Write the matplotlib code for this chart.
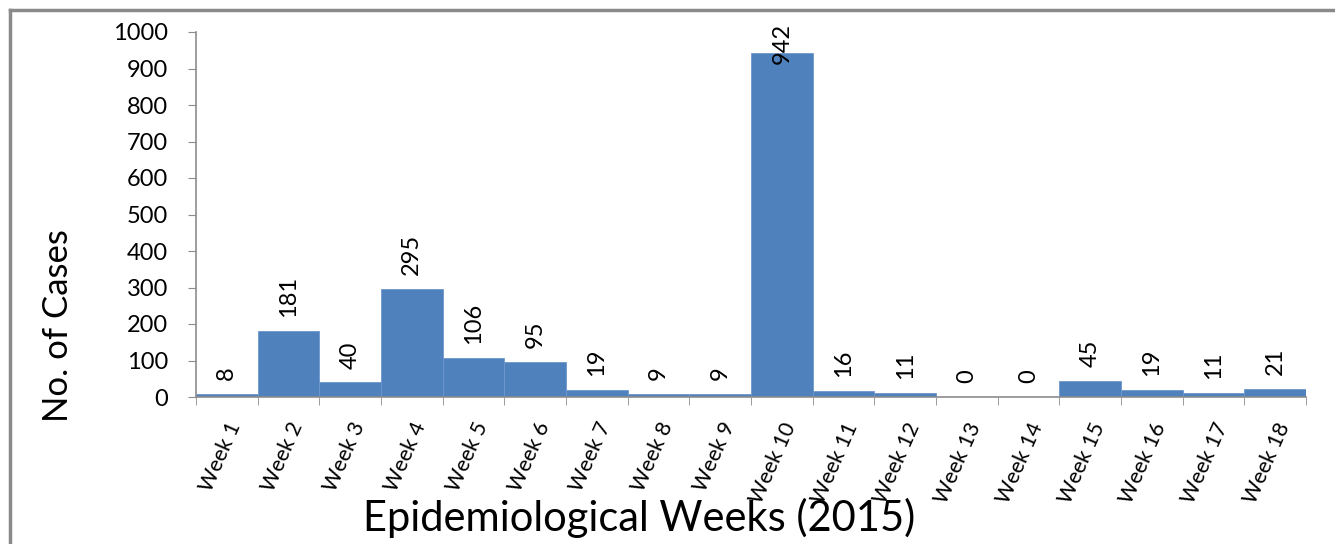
import matplotlib
matplotlib.use("Agg")
import matplotlib.pyplot as plt
from matplotlib.lines import Line2D
from matplotlib.ticker import FixedLocator, MultipleLocator

plt.rcParams['font.family'] = ['Lato', 'DejaVu Sans']

weeks = ["Week 1", "Week 2", "Week 3", "Week 4", "Week 5", "Week 6", "Week 7",
         "Week 8", "Week 9", "Week 10", "Week 11", "Week 12", "Week 13", "Week 14",
         "Week 15", "Week 16", "Week 17", "Week 18"]
cases = [8, 181, 40, 295, 106, 95, 19, 9, 9, 942, 16, 11, 0, 0, 45, 19, 11, 21]

fig = plt.figure(figsize=(13.35, 5.44), dpi=100)
ax = fig.add_axes([196/1335, 1-397/544, (1306-196)/1335, (397-32)/544])

x = list(range(len(weeks)))
ax.bar(x, cases, width=1.0, color="#4F81BD", edgecolor="#6d97cc", linewidth=0.6)

ax.set_xlim(-0.5, len(weeks)-0.5)
ax.set_ylim(0, 1000)
ax.yaxis.set_major_locator(MultipleLocator(100))

for s in ["top", "right"]:
    ax.spines[s].set_visible(False)
for s in ["left", "bottom"]:
    ax.spines[s].set_color("#8c8c8c")
    ax.spines[s].set_linewidth(1.2)

ax.tick_params(axis="y", direction="out", length=6, color="#8c8c8c", labelsize=17, pad=14)
ax.set_xticks(x)
ax.set_xticklabels(weeks, rotation=66, ha="right", rotation_mode="anchor", fontsize=15.5)
ax.tick_params(axis="x", which="major", length=0, pad=16)
ax.xaxis.set_minor_locator(FixedLocator([i - 0.5 for i in range(len(weeks)+1)]))
ax.tick_params(axis="x", which="minor", direction="out", length=6, color="#8c8c8c")

for xi, v in zip(x, cases):
    if v > 900:
        ax.annotate(str(v), (xi, v), xytext=(0, -8), textcoords="offset points",
                    rotation=90, ha="center", va="bottom", fontsize=17, annotation_clip=False)
    else:
        ax.annotate(str(v), (xi, v), xytext=(0, 10), textcoords="offset points",
                    rotation=90, ha="center", va="bottom", fontsize=17)

fig.text(58/1335, 1-326/544, "No. of Cases", rotation=90, ha="center", va="center", fontsize=25)
fig.text(639/1335, 1-518/544, "Epidemiological Weeks (2015)", ha="center", va="center", fontsize=30)

fig.lines.append(Line2D([10/1335, 10/1335], [0, 1-10/544], transform=fig.transFigure,
                        color="#8a8a8a", linewidth=2.5))
fig.lines.append(Line2D([10/1335, 1], [1-10/544, 1-10/544], transform=fig.transFigure,
                        color="#8a8a8a", linewidth=2.5))

fig.savefig("out.png", dpi=100)
